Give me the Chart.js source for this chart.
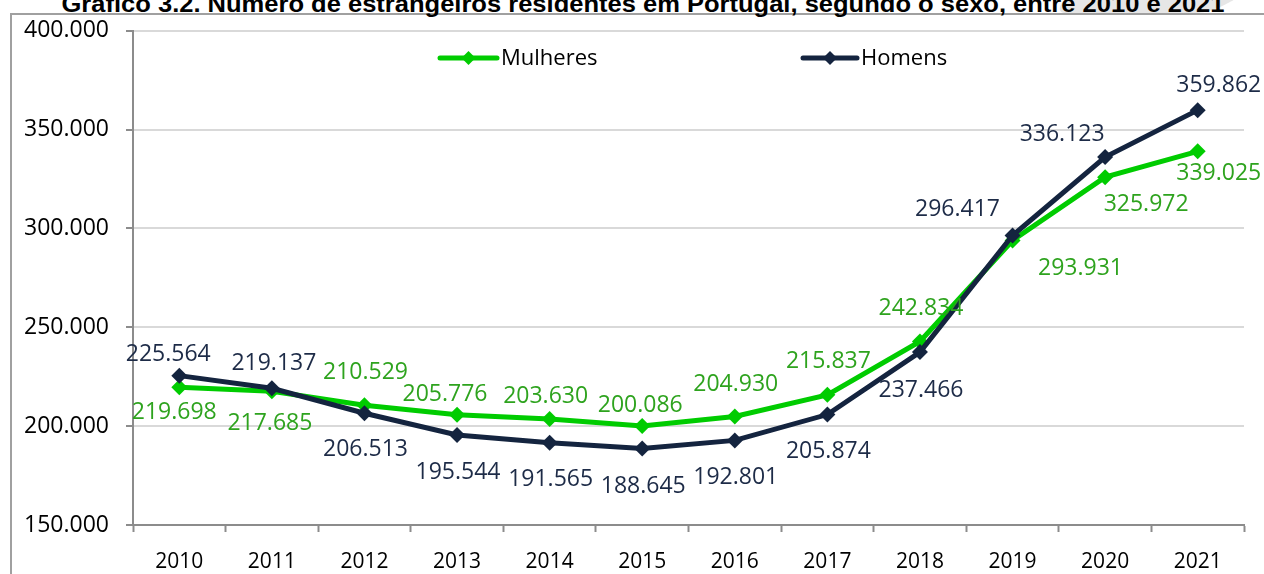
<!DOCTYPE html>
<html>
<head>
<meta charset="utf-8">
<script src="https://cdn.jsdelivr.net/npm/chart.js@4.4.0/dist/chart.umd.min.js"></script>
<style>
html, body { margin: 0; padding: 0; background: #fff; overflow: hidden; }
#wrap { position: relative; width: 1264px; height: 574px; overflow: hidden; }
#marca { position: absolute; left: 1070px; top: -30px; width: 180px; height: 43px; background: #e6e6e6; transform: skewX(-35deg); border-radius: 0 0 40px 10px; }
#frame { position: absolute; left: 10px; top: 13px; width: 1270px; height: 600px; border-left: 2px solid #a0a0a0; border-top: 2px solid #a0a0a0; }
#title { position: absolute; top: -7px; left: 643px; white-space: nowrap; font: bold 24px "Liberation Sans", Arial, sans-serif; line-height: 22px; color: #000; }
canvas { position: absolute; left: 0; top: 0; }
</style>
</head>
<body>
<div id="wrap">
  <div id="marca"></div>
  <div id="frame"></div>
  <span id="title">Gráfico 3.2. Número de estrangeiros residentes em Portugal, segundo o sexo, entre 2010 e 2021</span>
  <canvas id="grafico" width="1264" height="574"></canvas>
</div>
<script>
const anos = ['2010', '2011', '2012', '2013', '2014', '2015', '2016', '2017', '2018', '2019', '2020', '2021'];
const mulheres = [219698, 217685, 210529, 205776, 203630, 200086, 204930, 215837, 242834, 293931, 325972, 339025];
const homens = [225564, 219137, 206513, 195544, 191565, 188645, 192801, 205874, 237466, 296417, 336123, 359862];
const yMin = 150000;
const yMax = 400000;
const yStep = 50000;

// where each value label sits, relative to its point (px)
const offMulheres = [[-5, 25], [-2, 32], [1, -33], [-12, -20], [-4, -23], [-2, -21], [1, -32], [1, -33], [1, -33], [68, 28], [41, 27], [21, 22]];
const offHomens = [[-11, -21], [2, -25], [1, 36], [1, 37], [1, 37], [1, 38], [1, 37], [1, 37], [1, 38], [-55, -26], [-43, -23], [21, -25]];

const verde = '#00cc00';
const verdeTexto = '#2ea31e';
const azul = '#14243f';
const azulTexto = '#1d2b47';
const fonte = '"Open Sans", "DejaVu Sans", sans-serif';

function fmt(v) {
    return String(v).replace(/\B(?=(\d{3})+(?!\d))/g, '.');
}

// squeeze the title to the width it has in the original
const title = document.getElementById('title');
const tw = title.getBoundingClientRect().width;
title.style.transformOrigin = 'left top';
title.style.transform = 'translateX(' + (-1163 / 2) + 'px) scaleX(' + (1163 / tw) + ')';

const rotulos = {
    id: 'rotulos',
    afterDatasetsDraw(chart) {
        const ctx = chart.ctx;
        ctx.save();
        ctx.font = '23px ' + fonte;
        ctx.textAlign = 'center';
        ctx.textBaseline = 'middle';
        chart.data.datasets.forEach((ds, i) => {
            const meta = chart.getDatasetMeta(i);
            const offs = i == 0 ? offMulheres : offHomens;
            ctx.fillStyle = i == 0 ? verdeTexto : azulTexto;
            meta.data.forEach((pt, j) => {
                ctx.fillText(fmt(ds.data[j]), pt.x + offs[j][0], pt.y + offs[j][1]);
            });
        });
        ctx.restore();
    }
};

const legenda = {
    id: 'legenda',
    afterDraw(chart) {
        const ctx = chart.ctx;
        const y = 58;
        const items = [
            {label: 'Mulheres', color: verde, x0: 440, x1: 497},
            {label: 'Homens', color: azul, x0: 803, x1: 857}
        ];
        ctx.save();
        items.forEach(it => {
            ctx.strokeStyle = it.color;
            ctx.lineWidth = 5;
            ctx.lineCap = 'round';
            ctx.beginPath();
            ctx.moveTo(it.x0, y);
            ctx.lineTo(it.x1, y);
            ctx.stroke();
            const cx = (it.x0 + it.x1) / 2;
            ctx.fillStyle = it.color;
            ctx.beginPath();
            ctx.moveTo(cx, y - 7);
            ctx.lineTo(cx + 7, y);
            ctx.lineTo(cx, y + 7);
            ctx.lineTo(cx - 7, y);
            ctx.closePath();
            ctx.fill();
            ctx.fillStyle = '#000';
            ctx.font = '22px ' + fonte;
            ctx.textAlign = 'left';
            ctx.textBaseline = 'middle';
            ctx.fillText(it.label, it.x1 + 4, y + 1);
        });
        ctx.restore();
    }
};

new Chart('grafico', {
    type: 'line',
    data: {
        labels: anos,
        datasets: [{
            label: 'Mulheres',
            data: mulheres,
            borderColor: verde,
            backgroundColor: verde,
            borderWidth: 5,
            pointStyle: 'rectRot',
            pointRadius: 8,
            pointBorderWidth: 0,
            pointBackgroundColor: verde,
            tension: 0,
            order: 1
        }, {
            label: 'Homens',
            data: homens,
            borderColor: azul,
            backgroundColor: azul,
            borderWidth: 5,
            pointStyle: 'rectRot',
            pointRadius: 8,
            pointBorderWidth: 0,
            pointBackgroundColor: azul,
            tension: 0,
            order: 0
        }]
    },
    options: {
        responsive: false,
        animation: false,
        layout: {padding: {left: 0, right: 20, top: 29, bottom: 0}},
        plugins: {
            legend: {display: false},
            title: {display: false},
            tooltip: {enabled: false}
        },
        scales: {
            x: {
                offset: true,
                grid: {display: true, drawOnChartArea: false, offset: true, tickLength: 7, tickColor: '#8c8c8c', tickWidth: 2},
                border: {color: '#8c8c8c', width: 2},
                ticks: {color: '#000', font: {family: fonte, size: 21}, padding: 17, maxRotation: 0},
                afterFit(scale) { scale.height = 49; }
            },
            y: {
                min: yMin,
                max: yMax,
                grid: {color: '#d9d9d9', lineWidth: 2, tickLength: 7, tickColor: '#8c8c8c', tickWidth: 2},
                border: {color: '#8c8c8c', width: 2},
                ticks: {
                    stepSize: yStep,
                    color: '#000',
                    font: {family: fonte, size: 23},
                    padding: 17,
                    callback: v => fmt(v)
                },
                afterFit(scale) { scale.width = 133; }
            }
        }
    },
    plugins: [rotulos, legenda]
});
</script>
</body>
</html>
